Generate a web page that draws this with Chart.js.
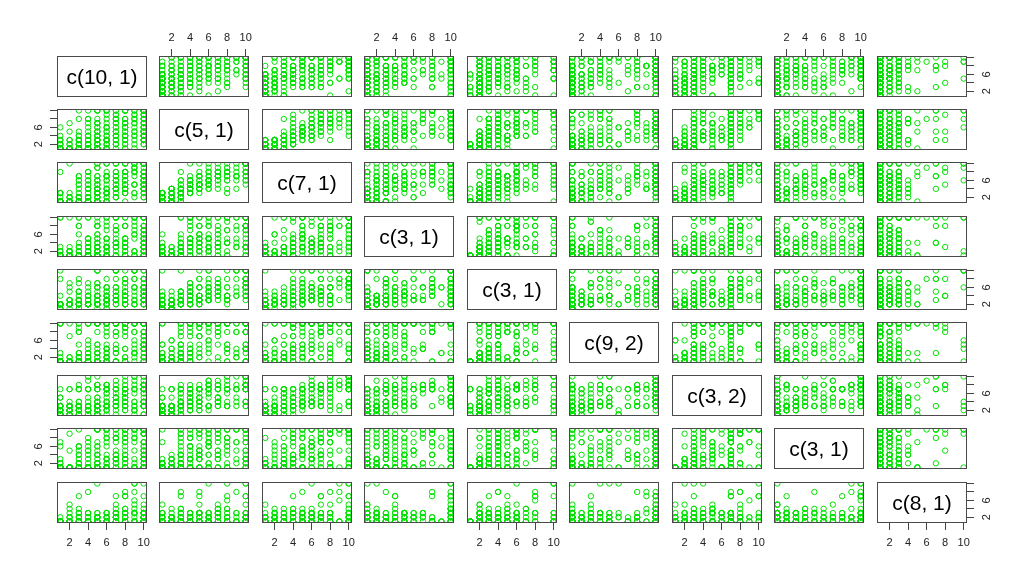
<!DOCTYPE html>
<html><head><meta charset="utf-8">
<script src="https://cdn.jsdelivr.net/npm/chart.js@4"></script>
<style>
body{margin:0;background:#fff;width:1024px;height:579px;overflow:hidden;position:relative;font-family:"Liberation Sans",Arial,sans-serif}
canvas{position:absolute}
.lab{position:absolute;display:flex;align-items:center;justify-content:center;font-size:21px;color:#000;font-family:"Liberation Sans",Arial,sans-serif;pointer-events:none}
</style></head><body>
<script>
// nine variables, one observation per index
const v1=[5,3,4,1,2,2,4,1,2,1, 4,4,6,3,5,1,3,5,2,1, 5,4,3,3,1,5,6,2,4,3, 1,5,2,8,1,4,3,5,6,1, 3,4,2,5,3,5,4,1,6,2, 3,5,4,1,5,3,2,7,4,3, 1,5,6,2,4,8,1,3,5,4, 5,6,8,5,8,7,10,7,10,3, 5,9,10,8,10,6,5,2,10,6, 5,10,7,10,8,10,5,10,7,10, 9,8,10,6,10,8,7,4,10,8, 10,5,9,7,10,6,10,4,8,10, 3,9,7,10,6,8,5,10,9,7, 5,4,10,8,6,10,3,10,7,5, 8,6,10,9,4,8,10,2,7,6, 10,5,9,8,10,1,7,10,3,6,
  4,5,6,7,8,3,9,2,6,5, 8,1,7,4,10,6,9,4,3,7, 1,5,8,2,6,7,3,10,5,8, 4,9,2,6,10,4,3,7,9,1, 5,3,8,6,10,4,7,2,5,8, 1,6,10,3,9,5,4,7,2,10, 4,8,3,7,5,6,10,1,9,4, 3,6,8,5,10,2,7,9,4,10, 5,1,8,6,4,10,7,3,9,2, 5,8,1,10,3,7,4,6,9,5];
const v2=[1,1,1,1,1,1,2,1,1,1, 1,1,1,2,1,1,1,2,1,3, 1,1,1,3,1,1,2,1,1,2, 1,3,1,4,1,1,1,1,1,2, 1,1,3,2,1,1,2,1,3,1, 1,1,1,1,2,1,1,2,3,1, 2,1,1,1,4,1,1,2,1,2, 4,8,10,3,7,4,7,3,5,5, 10,4,6,10,10,2,4,5,4,10, 6,10,5,3,3,7,4,10,7,8, 5,4,5,6,10,6,9,8,3,8, 6,10,7,8,8,10,10,7,5,9, 8,8,6,4,3,10,7,8,10,2, 8,6,10,6,5,2,4,9,10,7, 3,9,4,6,5,7,6,7,8,4, 10,3,2,4,5,6,4,10,3,10,
  2,3,4,5,6,2,7,2,3,5, 2,2,1,3,3,1,1,2,1,2, 4,2,8,1,5,10,3,2,7,1, 10,9,3,6,4,1,10,6,3,3, 10,1,4,3,7,4,9,1,6,5, 1,2,9,4,8,5,1,4,1,10, 8,2,1,8,1,6,4,1,10,2, 3,1,7,5,5,2,3,5,1,6, 2,1,10,3,4,3,7,2,4,1, 4,6,1,5,1,5,1,7,9,3];
const v3=[1,1,1,1,2,1,1,1,1,1, 1,1,1,1,1,1,1,3,1,3, 2,1,1,6,1,1,1,1,2,2, 1,1,1,4,3,1,1,1,3,1, 1,1,1,2,1,1,2,1,3,1, 2,1,1,1,1,1,1,4,2,1, 2,3,1,1,4,1,1,1,1,1, 4,8,10,3,5,6,7,2,5,7, 10,5,4,10,10,1,4,3,3,10, 5,10,10,6,8,7,6,10,6,8, 8,4,7,6,10,5,6,7,5,7, 6,6,7,3,10,7,6,8,5,8, 6,9,10,4,4,8,9,4,10,4, 9,6,10,4,5,2,5,7,8,4, 3,7,5,9,5,8,5,10,8,3, 9,4,3,6,5,8,5,10,5,10,
  2,3,3,6,7,3,8,1,4,5, 3,1,2,1,3,3,2,4,1,2, 3,2,8,1,4,10,2,2,7,3, 8,10,2,7,7,2,7,5,3,1, 10,1,10,3,8,4,4,1,6,6, 1,2,7,4,8,7,3,4,1,10, 6,4,2,7,1,6,6,1,10,1, 2,1,6,5,5,2,4,5,1,6, 4,1,5,2,5,4,7,1,5,1, 3,8,1,4,1,4,1,7,9,2];
const v4=[1,1,3,1,1,1,1,1,1,1, 1,1,1,1,2,1,1,1,2,2, 1,1,1,4,1,1,1,1,1,1, 1,2,1,1,1,2,1,1,1,1, 3,1,1,2,1,1,1,1,3,1, 1,1,1,1,1,1,1,1,1,1, 1,1,3,2,2,1,1,2,4,1, 5,1,8,3,10,4,6,10,3,8, 3,10,1,10,8,1,9,3,1,2, 6,4,10,2,3,3,8,8,4,5, 1,5,4,9,10,4,4,10,1,4, 3,1,5,7,10,7,3,3,5,7, 10,10,5,10,1,8,8,4,1,1, 4,5,6,3,8,1,3,3,8,1, 1,5,5,2,10,2,8,10,7,5, 3,3,1,3,6,10,10,7,2,10,
  1,2,3,4,5,1,6,1,2,5, 1,3,1,1,10,1,6,3,1,1, 10,2,1,1,4,3,6,1,1,1, 5,10,2,10,2,1,8,3,2,2, 10,1,5,3,7,4,10,2,2,2, 1,2,3,10,9,8,1,3,1,10, 4,1,1,2,3,5,4,1,10,1, 1,1,4,6,5,1,4,2,2,2, 1,1,3,1,5,5,4,1,7,1, 1,8,1,2,1,6,1,3,8,4];
const v5=[2,2,2,2,2,2,2,1,2,2, 2,2,2,1,2,1,2,2,3,2, 2,2,2,5,2,2,1,2,2,2, 2,2,3,2,2,2,1,2,2,2, 2,2,5,2,3,2,2,2,3,2, 2,2,2,2,2,2,2,3,3,2, 2,2,2,2,2,2,10,2,2,2, 7,3,7,2,7,6,4,5,6,8, 7,6,3,8,6,1,2,6,3,8, 10,8,10,3,4,8,4,6,6,4, 2,4,4,6,5,3,10,4,10,10, 4,10,5,4,6,6,3,4,2,6, 3,8,3,2,5,4,6,4,10,3, 3,7,8,5,4,2,7,4,10,6, 2,5,5,10,4,4,5,7,3,4, 7,4,3,3,3,8,2,10,3,4,
  2,3,3,4,5,2,6,2,3,4, 2,2,2,2,2,4,4,2,4,3, 4,4,2,2,3,6,3,2,5,5, 4,10,2,3,2,2,5,3,2,2, 10,2,4,3,6,6,10,2,4,3, 2,2,4,5,6,6,2,4,3,6, 3,5,2,4,2,6,5,1,10,2, 3,2,4,3,4,1,3,2,2,4, 1,2,8,3,5,3,5,2,3,2, 2,6,2,3,2,8,2,3,8,2];
const v6=[1,2,1,10,1,1,1,1,1,3, 1,1,1,1,2,1,1,1,1,1, 1,1,5,8,1,1,1,1,1,1, 1,1,1,9,1,1,1,2,1,1, 1,3,1,1,2,1,1,1,2,1, 1,1,1,1,1,1,1,4,1,1, 1,1,1,1,3,1,1,1,1,2, 10,4,10,3,9,1,10,10,7,9, 3,10,4,10,1,1,10,7,3,10, 1,1,10,5,9,5,1,8,10,5, 3,7,10,3,10,10,10,10,5,10, 5,4,10,5,1,4,10,10,10,4, 10,10,10,10,2,8,10,10,8,4, 10,6,4,9,10,6,3,2,10,1, 2,8,10,6,10,2,10,10,10,10, 5,5,1,1,10,10,10,10,10,10,
  1,1,2,7,10,2,10,1,3,5, 1,1,1,1,10,5,10,2,1,1, 10,3,1,2,9,1,3,6,8,1, 1,10,2,10,8,1,8,8,3,2, 10,1,4,2,8,5,3,1,10,10, 1,1,2,1,3,10,1,10,1,10, 4,1,1,8,1,10,10,1,5,1, 1,1,10,10,2,1,3,2,1,10, 1,1,4,4,2,7,10,1,4,1, 1,10,1,4,1,10,1,7,8,1];
const v7=[3,3,3,3,3,1,2,3,2,3, 2,3,3,2,2,3,2,1,2,7, 3,2,3,4,1,2,7,1,3,2, 3,2,2,3,2,2,2,3,3,1, 2,2,1,1,1,2,2,2,6,3, 1,3,1,2,3,3,1,3,2,1, 1,2,1,3,2,3,1,3,3,3, 3,3,9,4,5,4,4,5,7,7, 8,4,3,10,8,7,5,7,6,7, 3,8,4,4,8,7,8,7,4,10, 2,7,8,7,10,6,3,7,3,7, 3,4,7,7,3,8,4,9,4,7, 8,9,9,5,3,7,8,3,3,3, 7,7,8,3,3,1,4,7,8,7, 3,4,4,2,7,5,8,4,7,2, 3,4,1,4,7,5,3,8,7,7,
  2,3,4,5,6,3,7,3,2,5, 2,2,1,4,7,5,7,2,3,2, 5,3,6,2,7,7,3,1,3,2, 10,10,3,8,6,3,7,7,3,1, 10,1,7,6,8,7,5,3,3,6, 2,2,7,3,4,7,5,6,2,8, 10,5,3,3,1,8,7,1,10,2, 3,3,5,3,4,7,3,2,1,9, 1,3,4,4,3,3,5,3,6,2, 2,7,2,4,2,5,3,3,8,1];
const v8=[1,1,1,1,1,1,1,1,1,1, 1,1,1,1,1,1,1,1,1,2, 1,1,1,4,1,1,1,1,1,1, 1,1,1,3,1,1,1,1,1,1, 1,1,1,1,1,2,1,3,1,1, 1,1,1,1,1,1,1,3,1,1, 1,1,1,1,1,1,1,1,1,1, 2,7,7,4,5,3,1,4,10,10, 10,8,2,10,9,1,6,5,5,3, 1,10,10,10,9,4,10,10,3,4, 1,8,9,8,10,1,5,5,10,8, 6,10,8,8,1,10,3,1,3,10, 6,10,10,3,9,7,10,10,3,3, 1,7,5,1,4,1,6,7,2,10, 2,2,1,9,5,10,6,9,2,6, 5,7,1,3,9,7,8,2,1,10,
  1,2,1,3,4,2,5,1,1,5, 2,1,1,8,3,10,7,1,2,1, 6,2,10,1,8,8,5,1,4,1, 1,10,1,10,1,1,4,4,2,1, 1,1,10,1,9,3,3,1,6,6, 2,3,7,3,1,4,2,9,1,1, 6,4,1,8,1,2,1,1,10,1, 6,1,1,1,1,1,2,1,1,7, 1,1,10,1,4,4,7,1,1,1, 3,9,1,3,2,4,1,3,10,1];
const v9=[1,1,1,1,1,5,1,1,1,1, 1,1,1,1,1,1,1,1,1,1, 1,1,1,1,1,1,1,1,1,1, 1,1,1,1,1,1,1,1,1,1, 1,1,1,2,1,1,1,1,1,1, 1,1,1,1,1,1,1,1,1,1, 1,1,1,1,1,1,1,1,1,1, 1,1,1,1,4,1,2,4,1,7, 2,1,3,7,1,1,1,1,2,3, 1,1,3,2,8,3,1,1,2,1, 5,2,1,1,7,1,1,1,2,7, 1,10,3,2,10,2,2,1,1,3, 4,6,2,3,1,1,1,4,1,1, 1,3,1,1,1,2,1,1,1,3, 1,1,1,10,8,1,1,4,3,1, 1,1,1,1,2,1,2,1,1,1,
  1,2,2,1,2,1,3,2,1,3, 2,1,3,1,3,1,2,1,2,3, 1,2,1,3,3,2,3,2,2,1, 3,1,2,2,3,1,2,1,4,1, 2,1,3,1,2,1,3,1,2,3, 1,2,2,3,1,1,3,2,2,5, 2,4,1,2,1,3,2,1,10,1, 2,1,3,1,2,1,7,3,1,2, 1,1,3,1,2,1,5,1,3,1, 1,2,2,3,1,2,1,1,8,1];
const varLabels=["c(10, 1)","c(5, 1)","c(7, 1)","c(3, 1)","c(3, 1)","c(9, 2)","c(3, 2)","c(3, 1)","c(8, 1)"];
const tickValues=[2,4,6,8,10];
const xTickLabels=["2","4","6","8","10"];
const yTickLabels=["2","","6","",""];

const vars=[v1,v2,v3,v4,v5,v6,v7,v8,v9];
const NV=vars.length;
const PX0=56.7, PY0=56, DX=102.5, DY=53.2, PW=90, PH=41, M=40;
const GREEN='rgb(0,225,0)';
const FONT={family:'"Liberation Sans", Arial, sans-serif', size:11};

const boxPlugin={id:'box',afterDraw(ch){const a=ch.chartArea,c=ch.ctx;c.save();c.strokeStyle='#4a4a4a';c.lineWidth=1;c.strokeRect(a.left+0.5,a.top+0.5,a.right-a.left-1,a.bottom-a.top-1);c.restore();}};

function scaleCfg(axis,pos,show){
  const horiz=axis==='x';
  const cfg={type:'linear',position:pos,display:show,min:0.64,max:10.36,
    afterBuildTicks:s=>{s.ticks=tickValues.map(v=>({value:v}));},
    grid:{display:true,drawOnChartArea:false,drawTicks:true,tickLength:7,color:'#444',lineWidth:1},
    border:{display:false},
    ticks:{autoSkip:false,font:FONT,color:'#222',
      callback:(v,i)=>horiz?xTickLabels[i]:yTickLabels[i]}};
  if(horiz){
    cfg.ticks.minRotation=0;cfg.ticks.maxRotation=0;
    cfg.ticks.padding=pos==='top'?4:6;
    if(show) cfg.afterFit=s=>{s.height=M;};
  }else{
    cfg.ticks.minRotation=90;cfg.ticks.maxRotation=90;
    cfg.ticks.crossAlign='center';
    cfg.ticks.padding=pos==='left'?7.5:10;
    if(show) cfg.afterFit=s=>{s.width=M;};
  }
  return cfg;
}

for(let r=0;r<NV;r++){
  for(let c=0;c<NV;c++){
    const L=Math.round(PX0+c*DX), T=Math.round(PY0+r*DY);
    const cv=document.createElement('canvas');
    cv.width=PW+2*M; cv.height=PH+2*M;
    cv.style.left=(L-M)+'px'; cv.style.top=(T-M)+'px';
    cv.style.width=(PW+2*M)+'px'; cv.style.height=(PH+2*M)+'px';
    document.body.appendChild(cv);
    const top=r===0&&c%2===1, bottom=r===NV-1&&c%2===0;
    const left=c===0&&r%2===1, right=c===NV-1&&r%2===0;
    const pts=r===c?[]:vars[c].map((x,i)=>({x:x,y:vars[r][i]}));
    new Chart(cv,{type:'scatter',
      data:{datasets:[{data:pts,pointStyle:'circle',pointRadius:2.7,pointBorderWidth:1,
        pointBackgroundColor:'rgba(0,0,0,0)',pointBorderColor:GREEN,clip:0}]},
      options:{responsive:false,animation:false,devicePixelRatio:1,events:[],
        layout:{padding:{left:left?0:M,right:right?0:M,top:top?0:M,bottom:bottom?0:M}},
        plugins:{legend:{display:false},tooltip:{enabled:false}},
        scales:{x:scaleCfg('x',top?'top':'bottom',top||bottom),y:scaleCfg('y',left?'left':'right',left||right)}},
      plugins:[boxPlugin]});
    if(r===c){
      const d=document.createElement('div');
      d.className='lab';d.textContent=varLabels[r];
      d.style.left=L+'px';d.style.top=T+'px';d.style.width=PW+'px';d.style.height=PH+'px';
      document.body.appendChild(d);
    }
  }
}
</script>
</body></html>
